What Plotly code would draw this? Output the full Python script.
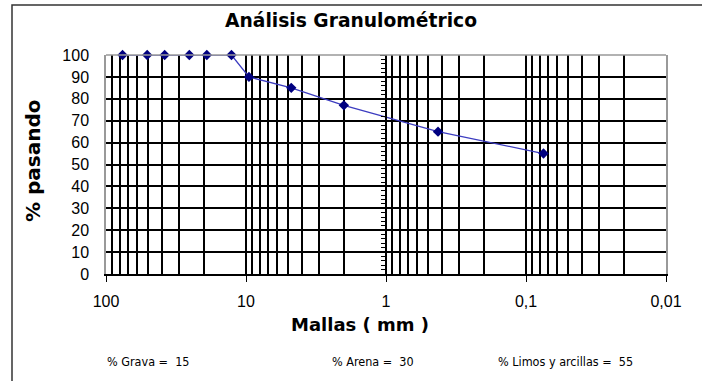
import plotly.graph_objects as go

# ---- data ----
sieve_mm = [76.2, 50.8, 38.1, 25.4, 19.05, 12.7, 9.525, 4.75, 2.0, 0.425, 0.075]
pct_passing = [100, 100, 100, 100, 100, 100, 90, 85, 77, 65, 55]
x_tick_vals = [100, 10, 1, 0.1, 0.01]
x_tick_text = ["100", "10", "1", "0,1", "0,01"]
y_tick_vals = [0, 10, 20, 30, 40, 50, 60, 70, 80, 90, 100]
summary_labels = ["% Grava =  15", "% Arena =  30", "% Limos y arcillas =  55"]

W, H = 702, 381
L, R, T, B = 106, 36, 55, 107
PW, PH = W - L - R, H - T - B


def px(xp):
    return (xp - L) / PW


def py(yp):
    return (H - B - yp) / PH


minor_vals = [m * 10 ** e for e in (-2, -1, 0, 1) for m in range(2, 10)]

fig = go.Figure()
fig.add_trace(go.Scatter(
    x=sieve_mm, y=pct_passing, mode="lines+markers",
    line=dict(color="#3c3cc0", width=1.3),
    marker=dict(symbol="diamond", size=8, color="#000080"),
    cliponaxis=False, showlegend=False, hoverinfo="x+y"))
# dummy trace to materialise the inner value axis crossing at 1 mm
fig.add_trace(go.Scatter(x=[1], y=[0], yaxis="y2", mode="none",
                         showlegend=False, hoverinfo="skip"))

axis_font = dict(family="Liberation Sans, Arial, sans-serif", size=16, color="black")
GRID = "#000"
GW = 1.6

fig.update_layout(
    width=W, height=H,
    margin=dict(l=L, r=R, t=T, b=B, pad=0),
    paper_bgcolor="white", plot_bgcolor="white",
    xaxis=dict(
        type="log", range=[2, -2],
        tickmode="array", tickvals=x_tick_vals, ticktext=x_tick_text,
        ticks="outside", ticklen=6, tickcolor="black", tickwidth=1,
        tickfont=axis_font, ticklabelstandoff=6,
        showgrid=True, gridcolor=GRID, gridwidth=GW,
        minor=dict(tickmode="array", tickvals=minor_vals, showgrid=True,
                   gridcolor=GRID, gridwidth=GW, ticks=""),
        showline=True, linecolor="black", linewidth=1.5,
        zeroline=False,
    ),
    yaxis=dict(
        range=[0, 100], tickmode="array", tickvals=y_tick_vals,
        ticks="", tickfont=axis_font, ticklabelstandoff=12,
        showgrid=True, gridcolor=GRID, gridwidth=GW,
        showline=True, linecolor="#999", linewidth=1.5, mirror=True,
        zeroline=False,
    ),
    yaxis2=dict(
        overlaying="y", anchor="free", position=0.5, side="left",
        range=[0, 100], dtick=10, ticks="outside", ticklen=5,
        tickcolor="black", showticklabels=False,
        minor=dict(dtick=2, ticks="outside", ticklen=4, tickcolor="black"),
        showgrid=False, zeroline=False,
        showline=True, linecolor="black", linewidth=1.5,
    ),
)

# top border of plot area (gray)
fig.add_shape(type="line", xref="paper", yref="paper", x0=0, x1=1, y0=1, y1=1,
              line=dict(color="#999", width=1.5))
# outer chart frame
fig.add_shape(type="rect", xref="paper", yref="paper",
              x0=px(12), x1=px(740), y0=py(420), y1=py(5),
              line=dict(color="#333", width=1.5))

title_font = dict(family="DejaVu Sans, sans-serif", size=18.7, color="black", weight="bold")
fig.add_annotation(text="Análisis Granulométrico", xref="paper", yref="paper",
                   x=px(351), y=py(21), showarrow=False, font=title_font,
                   xanchor="center", yanchor="middle")
fig.add_annotation(text="Mallas ( mm )", xref="paper", yref="paper",
                   x=px(360), y=py(324), showarrow=False,
                   font=dict(family="DejaVu Sans, sans-serif", size=18,
                             color="black", weight="bold"),
                   xanchor="center", yanchor="middle")
fig.add_annotation(text="% pasando", xref="paper", yref="paper",
                   x=px(33), y=py(161), showarrow=False, textangle=-90,
                   font=dict(family="DejaVu Sans, sans-serif", size=20,
                             color="black", weight="bold"),
                   xanchor="center", yanchor="middle")

small_font = dict(family="Liberation Sans Narrow, DejaVu Sans Condensed, Arial Narrow, sans-serif",
                  size=12.5, color="black")
for lbl, xl in zip(summary_labels, [105, 330, 496]):
    fig.add_annotation(text=lbl, xref="paper", yref="paper",
                       x=px(xl), y=py(361), showarrow=False, font=small_font,
                       xanchor="left", yanchor="middle")

fig.write_html("out.html",
               config={"displayModeBar": False},
               post_script="document.body.style.margin='0';"
                           "document.body.style.overflow='hidden';")
